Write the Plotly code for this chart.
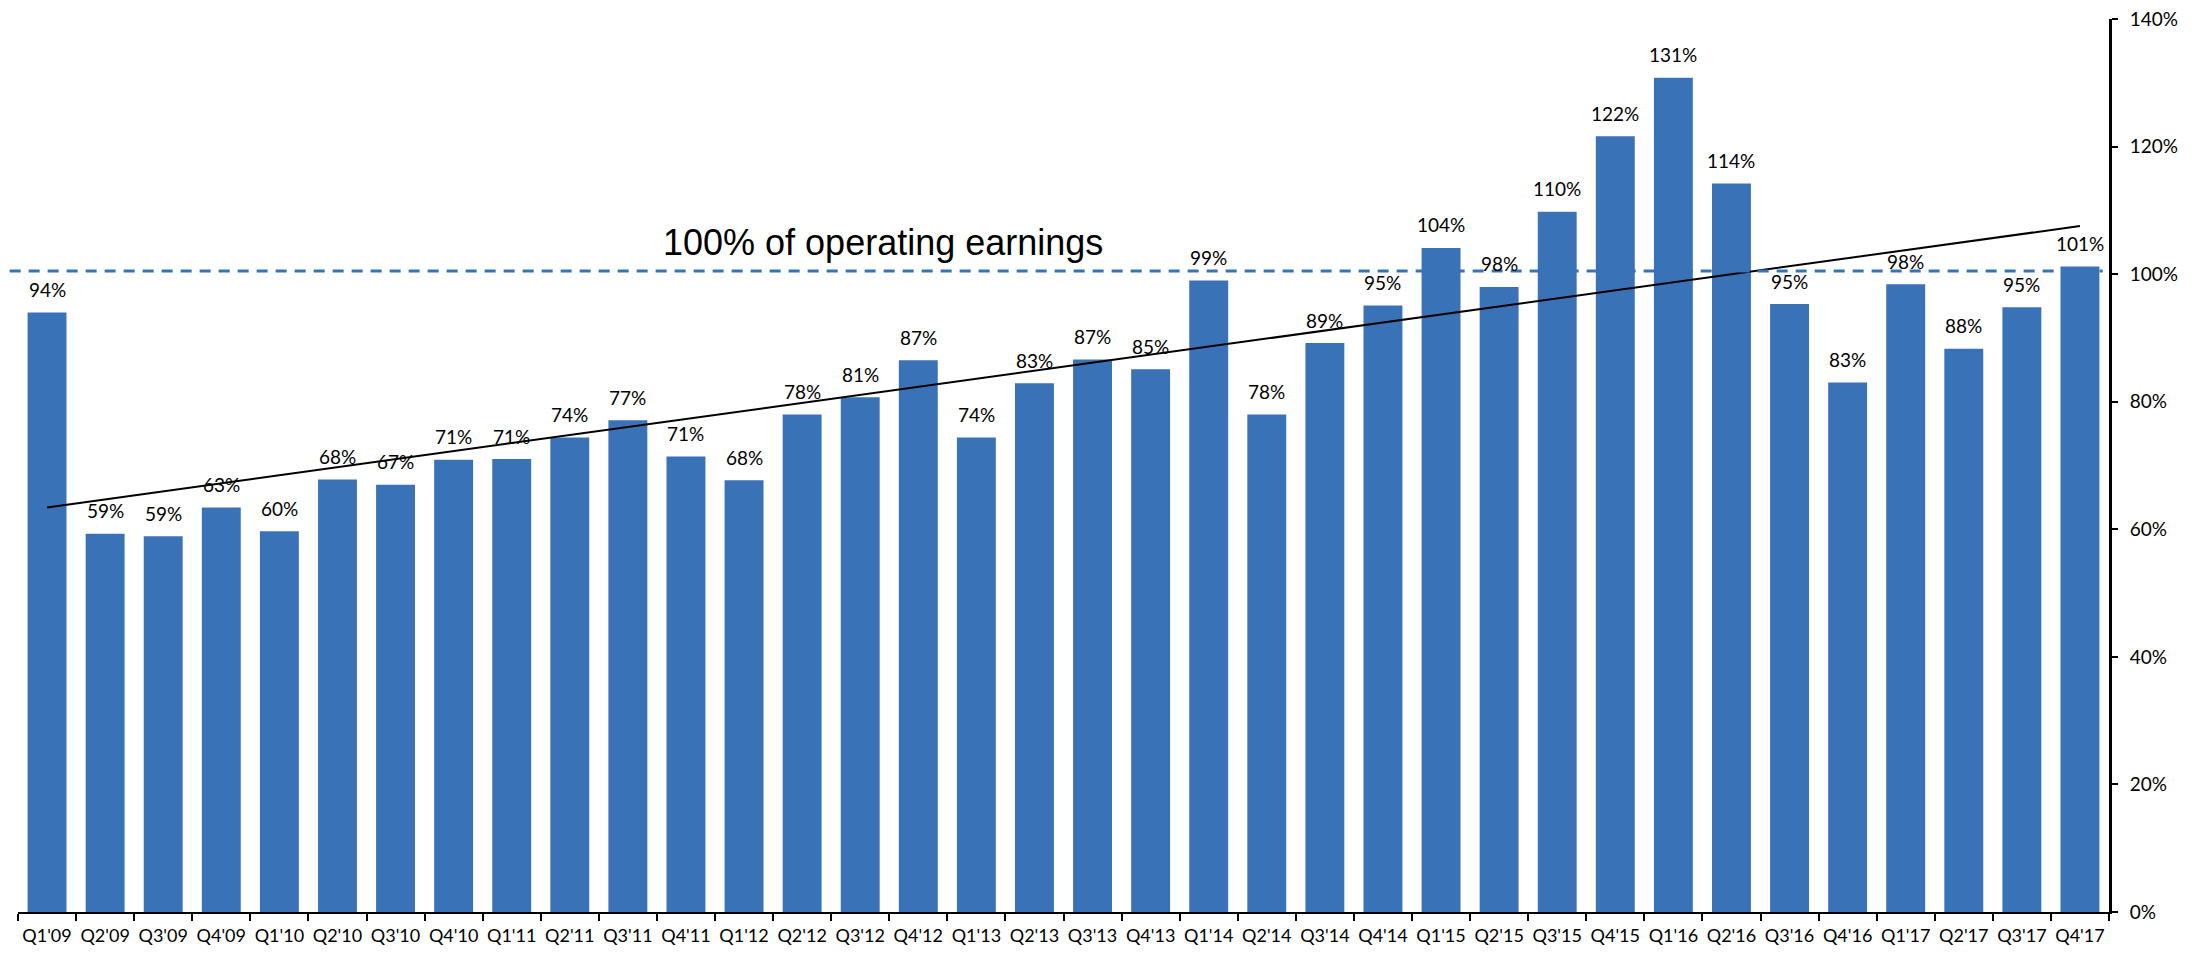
import plotly.graph_objects as go
import numpy as np

quarters = ["Q1'09", "Q2'09", "Q3'09", "Q4'09", "Q1'10", "Q2'10", "Q3'10", "Q4'10",
            "Q1'11", "Q2'11", "Q3'11", "Q4'11", "Q1'12", "Q2'12", "Q3'12", "Q4'12",
            "Q1'13", "Q2'13", "Q3'13", "Q4'13", "Q1'14", "Q2'14", "Q3'14", "Q4'14",
            "Q1'15", "Q2'15", "Q3'15", "Q4'15", "Q1'16", "Q2'16", "Q3'16", "Q4'16",
            "Q1'17", "Q2'17", "Q3'17", "Q4'17"]
payout = [94, 59.3, 58.9, 63.4, 59.7, 67.8, 67.0, 70.9,
          71.0, 74.4, 77.1, 71.4, 67.7, 78.0, 80.7, 86.5,
          74.4, 82.9, 86.6, 85.1, 99.0, 78.0, 89.2, 95.1,
          104.1, 98.0, 109.8, 121.6, 130.8, 114.2, 95.3, 83.0,
          98.4, 88.3, 94.8, 101.2]
labels = ["94%", "59%", "59%", "63%", "60%", "68%", "67%", "71%",
          "71%", "74%", "77%", "71%", "68%", "78%", "81%", "87%",
          "74%", "83%", "87%", "85%", "99%", "78%", "89%", "95%",
          "104%", "98%", "110%", "122%", "131%", "114%", "95%", "83%",
          "98%", "88%", "95%", "101%"]
target = 100.5

bar_color = "#3A72B8"
font = "Lato, Calibri, Carlito, sans-serif"

fig = go.Figure()
fig.add_trace(go.Bar(x=quarters, y=payout, marker_color=bar_color,
                     marker_line_width=0, hoverinfo="x+y"))

# linear trend through the quarterly payouts
idx = np.arange(len(payout))
slope, icept = np.polyfit(idx, payout, 1)
fig.add_trace(go.Scatter(x=[quarters[0], quarters[-1]],
                         y=[icept, icept + slope * idx[-1]],
                         mode="lines", line=dict(color="black", width=2),
                         hoverinfo="skip"))

for q, v, t in zip(quarters, payout, labels):
    fig.add_annotation(x=q, y=v, text=t, showarrow=False, yanchor="middle",
                       yshift=23, font=dict(family=font, size=19, color="black"))

fig.add_shape(type="line", xref="paper", yref="y", x0=-0.004, x1=0.997,
              y0=target, y1=target, line=dict(color="#3A72B8", width=3, dash="11px,8px"))
fig.add_annotation(x=14.4, y=105, text="100% of operating earnings", showarrow=False,
                   font=dict(family="Liberation Sans, Arial, sans-serif", size=36, color="black"))

# page body keeps its default 8px margin, so the figure is sized to fit inside the window
fig.update_layout(
    width=2185, height=945,
    margin=dict(l=10, r=84, t=11, b=41),
    plot_bgcolor="white", paper_bgcolor="white",
    showlegend=False, bargap=0.33,
    xaxis=dict(type="category", tickson="boundaries", ticks="outside", ticklen=7,
               tickwidth=2, tickcolor="black", showline=True, linecolor="black",
               linewidth=2, showgrid=False, ticklabelstandoff=6, tickangle=0,
               automargin=False,
               tickfont=dict(family=font, size=18, color="black")),
    yaxis=dict(side="right", range=[0, 140], dtick=20, ticksuffix="%", ticks="outside",
               ticklen=6, tickwidth=2, tickcolor="black", showline=True,
               linecolor="black", linewidth=3, showgrid=False, zeroline=False,
               ticklabelstandoff=8, automargin=False, ticklabeloverflow="allow",
               tickfont=dict(family=font, size=19, color="black")),
)

fig.write_html("out.html")
